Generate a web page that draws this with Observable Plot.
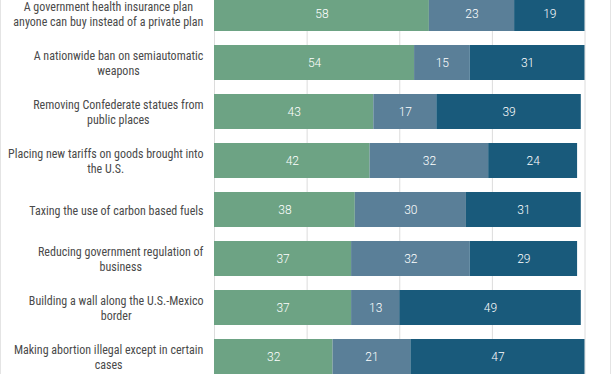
<!DOCTYPE html>
<html>
<head>
<meta charset="utf-8">
<script src="https://cdn.jsdelivr.net/npm/d3@7"></script>
<script src="https://cdn.jsdelivr.net/npm/@observablehq/plot@0.6"></script>
<style>
  html, body { margin: 0; padding: 0; background: #fff; }
  #wrap { position: relative; width: 612px; height: 374px; overflow: hidden; }
  #wrap::before, #wrap::after { content: ""; position: absolute; top: 0; bottom: 0; width: 1px; background: #e4e4e4; }
  #wrap::before { left: 0; }
  #wrap::after { right: 1px; }
  svg { display: block; }
</style>
</head>
<body>
<div id="wrap"></div>
<script>
const categories = [
  "A government health insurance plan anyone can buy instead of a private plan",
  "A nationwide ban on semiautomatic weapons",
  "Removing Confederate statues from public places",
  "Placing new tariffs on goods brought into the U.S.",
  "Taxing the use of carbon based fuels",
  "Reducing government regulation of business",
  "Building a wall along the U.S.-Mexico border",
  "Making abortion illegal except in certain cases"
];
const wrappedLabels = [
  "A government health insurance plan\nanyone can buy instead of a private plan",
  "A nationwide ban on semiautomatic\nweapons",
  "Removing Confederate statues from\npublic places",
  "Placing new tariffs on goods brought into\nthe U.S.",
  "Taxing the use of carbon based fuels",
  "Reducing government regulation of\nbusiness",
  "Building a wall along the U.S.-Mexico\nborder",
  "Making abortion illegal except in certain\ncases"
];
const seriesNames = ["Favor", "Neither", "Oppose"];
const favor   = [58, 54, 43, 42, 38, 37, 37, 32];
const neither = [23, 15, 17, 32, 30, 32, 13, 21];
const oppose  = [19, 31, 39, 24, 31, 29, 49, 47];
const gridTicks = [0, 25, 50, 75, 100];
const colors = ["#6da384", "#5a7f98", "#195a7b"];

const values = [favor, neither, oppose];
const rows = [];
categories.forEach((c, i) => {
  seriesNames.forEach((s, j) => rows.push({category: c, series: s, value: values[j][i]}));
});
const labelMap = new Map(categories.map((c, i) => [c, wrappedLabels[i]]));
const labelFont = "'Liberation Sans Narrow', 'Roboto Condensed', 'Arial Narrow', sans-serif";

const chart = Plot.plot({
  width: 612,
  height: 374,
  marginLeft: 0, marginRight: 0, marginTop: 0, marginBottom: 0,
  style: {fontFamily: "Roboto, sans-serif", fontSize: "12px", background: "transparent"},
  x: {domain: [0, 100], range: [214, 584.5], axis: null},
  y: {domain: categories, range: [-13.2, 382.2], paddingInner: 0.29, paddingOuter: 0.145, axis: null},
  color: {domain: seriesNames, range: colors},
  marks: [
    Plot.ruleX(gridTicks, {stroke: "#dcdcdc", strokeWidth: 1}),
    Plot.barX(rows, Plot.stackX({y: "category", x: "value", fill: "series", order: seriesNames})),
    Plot.text(rows, Plot.stackX({y: "category", x: "value", z: "series", order: seriesNames, text: d => String(d.value), fill: "white", fontSize: 12, fontWeight: 300})),
    Plot.text(categories, {x: () => 0, y: d => d, text: d => labelMap.get(d), textAnchor: "middle", dx: -11, fill: "#4a4a4a", fontSize: 12, fontFamily: labelFont, lineHeight: 1.2})
  ]
});
document.getElementById("wrap").appendChild(chart);
// Right-align each centered label block against the axis
const labelSet = new Set(wrappedLabels.map(s => s.replace(/\n/g, "")));
chart.querySelectorAll("text").forEach(t => {
  if (!labelSet.has(t.textContent)) return;
  const w = t.getBBox().width;
  const tr = t.getAttribute("transform") || "";
  t.setAttribute("transform", tr + ` translate(${-w / 2},0)`);
});
</script>
</body>
</html>
